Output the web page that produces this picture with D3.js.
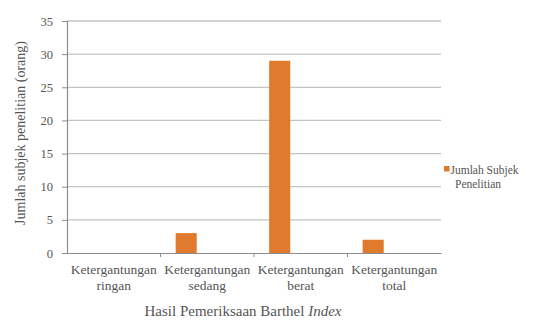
<!DOCTYPE html>
<html>
<head>
<meta charset="utf-8">
<script src="https://cdn.jsdelivr.net/npm/d3@7"></script>
<style>
  html, body { margin: 0; padding: 0; background: #fff; }
  svg text { font-family: "Liberation Serif", "Times New Roman", serif; }
</style>
</head>
<body>
<svg id="chart" width="543" height="320"></svg>
<script>
// Categories (two-line axis labels) and counts per category
const categories = [
  ["Ketergantungan", "ringan"],
  ["Ketergantungan", "sedang"],
  ["Ketergantungan", "berat"],
  ["Ketergantungan", "total"]
];
const values = [0, 3, 29, 2];
const yTicks = [0, 5, 10, 15, 20, 25, 30, 35];
const seriesName = ["Jumlah Subjek", "Penelitian"];
const yTitle = "Jumlah subjek penelitian (orang)";
const xTitle = "Hasil Pemeriksaan Barthel ";
const xTitleItalic = "Index";

const svg = d3.select("#chart");
const margin = { left: 67, right: 102, top: 21, bottom: 67 };
const W = 543, H = 320;
const plotW = W - margin.left - margin.right;
const plotH = H - margin.top - margin.bottom;
const textColor = "#555";
const barColor = "#E07A2C";

const g = svg.append("g").attr("transform", `translate(${margin.left},${margin.top})`);

const keys = categories.map(c => c.join(" "));
const x = d3.scaleBand().domain(keys).range([0, plotW]).padding(0);
const y = d3.scaleLinear().domain([0, 35]).range([plotH, 0]);

// Horizontal gridlines
g.append("g")
  .selectAll("line")
  .data(yTicks.filter(t => t > 0))
  .join("line")
  .attr("x1", 0).attr("x2", plotW)
  .attr("y1", d => y(d)).attr("y2", d => y(d))
  .attr("stroke", "#c4c4c4").attr("stroke-width", 1.3);

// Y axis
const yAxis = g.append("g")
  .call(d3.axisLeft(y).tickValues(yTicks).tickSize(5).tickPadding(9));
yAxis.attr("font-family", null);
yAxis.select(".domain").attr("stroke", "#8c8c8c").attr("stroke-width", 1.2);
yAxis.selectAll(".tick line").attr("stroke", "#8c8c8c");
yAxis.selectAll("text")
  .attr("font-size", 12.5).attr("fill", textColor);

// X axis
const xAxis = g.append("g")
  .attr("transform", `translate(0,${plotH})`)
  .call(d3.axisBottom(x).tickSize(0).tickFormat(""));
xAxis.select(".domain").attr("stroke", "#8c8c8c").attr("stroke-width", 1.2);
// Category boundary ticks
g.append("g")
  .selectAll("line")
  .data(keys.slice(1))
  .join("line")
  .attr("x1", d => x(d)).attr("x2", d => x(d))
  .attr("y1", plotH).attr("y2", plotH + 4)
  .attr("stroke", "#8c8c8c");

// Two-line category labels
const lab = g.append("g")
  .selectAll("text")
  .data(categories)
  .join("text")
  .attr("x", (d, i) => x(keys[i]) + x.bandwidth() / 2)
  .attr("y", plotH + 21)
  .attr("text-anchor", "middle")
  .attr("font-size", 13.5)
  .attr("fill", textColor);
lab.append("tspan").text(d => d[0]);
lab.append("tspan")
  .attr("x", (d, i) => x(keys[i]) + x.bandwidth() / 2)
  .attr("dy", 16)
  .text(d => d[1]);

// Bars: first slot of a three-slot cluster inside each category
const slot = d3.scaleBand().domain([0, 1, 2]).range([0, x.bandwidth()]).paddingOuter(0.72).paddingInner(0);
g.append("g")
  .selectAll("rect")
  .data(values)
  .join("rect")
  .attr("x", (d, i) => x(keys[i]) + slot(0))
  .attr("width", slot.bandwidth())
  .attr("y", d => y(d))
  .attr("height", d => plotH - y(d))
  .attr("fill", barColor);

// Axis titles
svg.append("text")
  .attr("transform", `translate(25,133) rotate(-90)`)
  .attr("text-anchor", "middle")
  .attr("font-size", 14)
  .attr("fill", textColor)
  .text(yTitle);

const xt = svg.append("text")
  .attr("x", 243)
  .attr("y", 316)
  .attr("text-anchor", "middle")
  .attr("font-size", 15)
  .attr("fill", textColor);
xt.append("tspan").text(xTitle);
xt.append("tspan").attr("font-style", "italic").text(xTitleItalic);

// Legend
const lg = svg.append("g").attr("transform", "translate(444,166)");
lg.append("rect").attr("x", 0).attr("y", 0).attr("width", 5.5).attr("height", 5.5).attr("fill", barColor);
lg.append("text").attr("x", 6.5).attr("y", 8).attr("font-size", 11.5).attr("fill", textColor).text(seriesName[0]);
lg.append("text").attr("x", 11).attr("y", 21.5).attr("font-size", 11.5).attr("fill", textColor).text(seriesName[1]);
</script>
</body>
</html>
